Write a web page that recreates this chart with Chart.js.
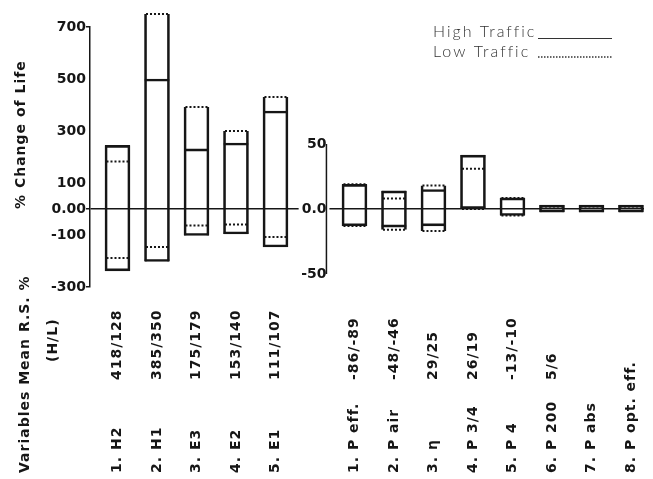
<!DOCTYPE html>
<html>
<head>
<meta charset="utf-8">
<script src="https://cdn.jsdelivr.net/npm/chart.js@4/dist/chart.umd.min.js"></script>
<style>
  html, body { margin: 0; padding: 0; background: #fff; }
  canvas { display: block; }
</style>
</head>
<body>
<canvas id="c" width="653" height="479"></canvas>
<script>
// Rut-depth / life group: % change of life, [min, max] for each traffic level
const lifeVars  = ['1. H2', '2. H1', '3. E3', '4. E2', '5. E1'];
const lifeMeans = ['418/128', '385/350', '175/179', '153/140', '111/107'];
const lifeHigh  = [[-238, 245], [-202, 500], [-102, 231], [-96, 254], [-146, 377]];
const lifeLow   = [[-188, 183], [-146, 750], [-63, 392], [-60, 300], [-108, 431]];
const lifeTicks = [700, 500, 300, 100, 0, -100, -300];

// Mix-property group on its own finer scale
const mixVars  = ['1. P eff.', '2. P air', '3. η', '4. P 3/4', '5. P 4', '6. P 200', '7. P abs', '8. P opt. eff.'];
const mixMeans = ['-86/-89', '-48/-46', '29/25', '26/19', '-13/-10', '5/6', '', ''];
const mixHigh  = [[-13, 19], [-14, 14], [-13, 15], [0, 41.5], [-5, 8.5], [-2.5, 3], [-2.5, 3], [-2.5, 3]];
const mixLow   = [[-13, 19], [-16, 8], [-17, 18], [0, 31], [-5, 8.5], [-1.5, 2], [-1.5, 2], [-1.5, 2]];
const mixTicks = [50, 0, -50];

// layout of the shared horizontal axis (slot units)
const X_MIN = -0.696, X_MAX = 13.33;
const MIX_OFFSET = 6;          // first slot of the second group
const AXIS2_X = 5.29;          // where the second value axis stands
const BAR_PX = 25;
const PX_PER_SLOT = (644 - 90) / (X_MAX - X_MIN);
const DOT_HALF = 11 / PX_PER_SLOT;

const INK = '#161616';
const CLEAR = 'rgba(0,0,0,0)';
const boldFont = { family: '"DejaVu Sans", sans-serif', weight: 'bold', size: 14 };

const lifeSlots = lifeVars.map((_, i) => i);
const mixSlots = mixVars.map((_, i) => i + MIX_OFFSET);

function envelope(slots, hi, lo) {
  return slots.map((x, i) => ({ x, y: [Math.min(hi[i][0], lo[i][0]), Math.max(hi[i][1], lo[i][1])] }));
}
function ranges(slots, vals) {
  return slots.map((x, i) => ({ x, y: vals[i] }));
}
function edges(slots, vals) {
  const pts = [];
  slots.forEach((x, i) => {
    vals[i].forEach(v => {
      pts.push({ x: x - DOT_HALF, y: v }, { x: x + DOT_HALF, y: v }, { x, y: null });
    });
  });
  return pts;
}

const sideBar = {
  type: 'bar', backgroundColor: CLEAR, borderColor: INK,
  borderWidth: { left: 2, right: 2, top: 0, bottom: 0 },
  borderSkipped: false, barThickness: BAR_PX, grouped: false, clip: false
};
const capBar = {
  type: 'bar', backgroundColor: CLEAR, borderColor: INK,
  borderWidth: { left: 0, right: 0, top: 2, bottom: 2 },
  borderSkipped: false, barThickness: BAR_PX, grouped: false, clip: false
};
const dotLine = {
  type: 'line', borderColor: INK, borderWidth: 2, borderDash: [2, 2],
  pointRadius: 0, spanGaps: false, clip: false, borderCapStyle: 'butt'
};

const datasets = [
  Object.assign({ label: 'life range', data: envelope(lifeSlots, lifeHigh, lifeLow), yAxisID: 'y' }, sideBar),
  Object.assign({ label: 'mix range', data: envelope(mixSlots, mixHigh, mixLow), yAxisID: 'y2' }, sideBar),
  Object.assign({ label: 'High Traffic', data: ranges(lifeSlots, lifeHigh), yAxisID: 'y' }, capBar),
  Object.assign({ label: 'High Traffic', data: ranges(mixSlots, mixHigh), yAxisID: 'y2' }, capBar),
  Object.assign({ label: 'Low Traffic', data: edges(lifeSlots, lifeLow), yAxisID: 'y' }, dotLine),
  Object.assign({ label: 'Low Traffic', data: edges(mixSlots, mixLow), yAxisID: 'y2' }, dotLine),
  {
    type: 'line', label: 'mix axis', yAxisID: 'y2',
    data: [{ x: AXIS2_X, y: mixTicks[mixTicks.length - 1] }, { x: AXIS2_X, y: mixTicks[0] }],
    borderColor: INK, borderWidth: 1.5, pointRadius: 0
  }
];

function rotText(ctx, text, x, y) {
  ctx.save();
  ctx.translate(x, y);
  ctx.rotate(-Math.PI / 2);
  ctx.textAlign = 'left';
  ctx.textBaseline = 'middle';
  ctx.fillText(text, 0, 0);
  ctx.restore();
}

// axis title, variable table under the bars, and the line-style key
const annotations = {
  id: 'annotations',
  afterDraw(chart) {
    const ctx = chart.ctx;
    const xs = chart.scales.x;
    ctx.save();
    ctx.fillStyle = INK;
    ctx.font = 'bold 14px "DejaVu Sans", sans-serif';
    ctx.letterSpacing = '1px';

    rotText(ctx, '% Change of Life', 21, 209);
    rotText(ctx, 'Variables Mean R.S. %', 25, 473);
    rotText(ctx, '(H/L)', 53, 362);

    const names = lifeVars.concat(mixVars);
    const means = lifeMeans.concat(mixMeans);
    const slots = lifeSlots.concat(mixSlots);
    slots.forEach((s, i) => {
      const px = xs.getPixelForValue(s);
      rotText(ctx, names[i], px, 473);
      if (means[i]) rotText(ctx, means[i], px, 380);
    });

    // key
    ctx.font = '300 16px Lato, "Open Sans", sans-serif';
    ctx.letterSpacing = '2px';
    ctx.fillStyle = '#333333';
    ctx.textAlign = 'left';
    ctx.textBaseline = 'alphabetic';
    ctx.fillText('High Traffic', 433, 37);
    ctx.fillText('Low Traffic', 433, 57);
    ctx.letterSpacing = '0px';
    ctx.strokeStyle = '#333333';
    ctx.lineWidth = 1.2;
    ctx.beginPath();
    ctx.moveTo(538, 38.5); ctx.lineTo(612, 38.5);
    ctx.stroke();
    ctx.setLineDash([1.5, 1.5]);
    ctx.lineWidth = 1.5;
    ctx.beginPath();
    ctx.moveTo(538, 57); ctx.lineTo(612, 57);
    ctx.stroke();
    ctx.restore();
  }
};

new Chart(document.getElementById('c'), {
  type: 'bar',
  data: { datasets },
  options: {
    responsive: false,
    animation: false,
    events: [],
    layout: { padding: { left: 0, top: 27, right: 9, bottom: 192 } },
    plugins: { legend: { display: false }, tooltip: { enabled: false } },
    scales: {
      x: { type: 'linear', min: X_MIN, max: X_MAX, display: false, offset: false },
      y: {
        type: 'linear', position: 'left', min: -300, max: 700,
        afterBuildTicks: s => { s.ticks = lifeTicks.map(v => ({ value: v })); },
        afterFit: s => { s.width = 90; },
        grid: {
          drawOnChartArea: true,
          color: c => (c.tick && c.tick.value === 0 ? INK : CLEAR),
          lineWidth: 1.5,
          tickLength: 4,
          tickWidth: 1.5,
          tickColor: c => (c.tick && [700, 0, -300].includes(c.tick.value) ? INK : CLEAR)
        },
        border: { display: true, color: INK, width: 1.5 },
        ticks: {
          autoSkip: false, font: boldFont, color: INK, padding: 0,
          callback: v => (v === 0 ? '0.00' : String(v))
        }
      },
      y2: {
        type: 'linear', position: { x: AXIS2_X }, min: -60, max: 140,
        afterBuildTicks: s => { s.ticks = mixTicks.map(v => ({ value: v })); },
        grid: { drawOnChartArea: false, tickLength: 4, tickWidth: 1.5, tickColor: INK },
        border: { display: false },
        ticks: {
          autoSkip: false, font: boldFont, color: INK, padding: 0,
          showLabelBackdrop: true, backdropColor: '#ffffff', backdropPadding: { x: 3, y: 1 },
          callback: v => (v === 0 ? '0.0' : String(v))
        }
      }
    }
  },
  plugins: [annotations]
});
</script>
</body>
</html>
